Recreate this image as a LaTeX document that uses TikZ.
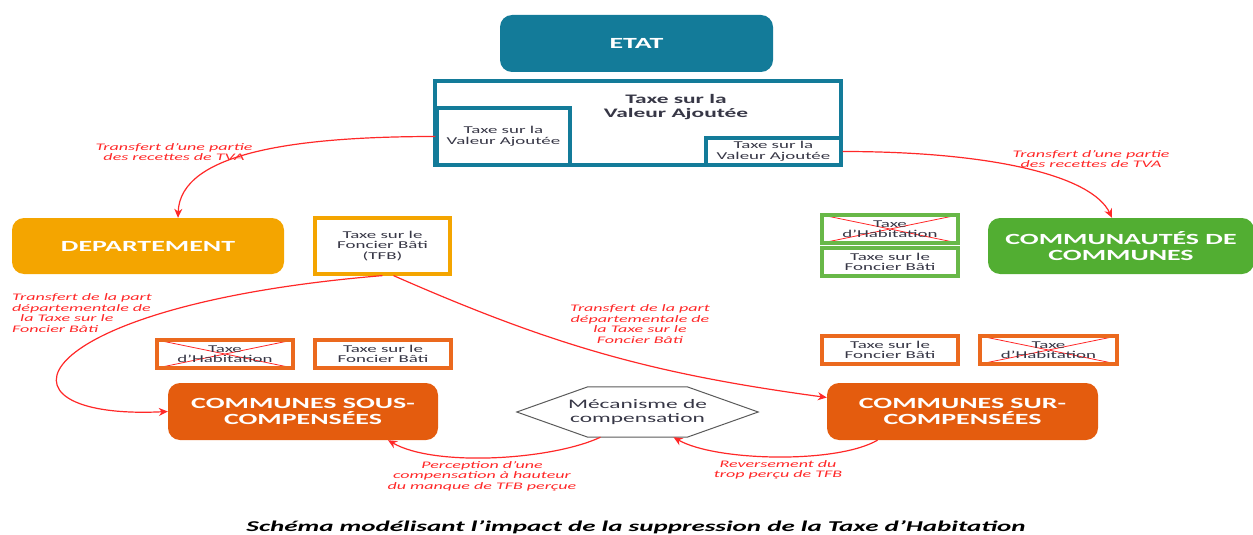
\documentclass[tikz,border=0pt]{standalone}
\usepackage{fontspec}
\setmainfont[FakeStretch=1.8]{Carlito}
\usepackage{tikz}
\usetikzlibrary{arrows.meta}
\usetikzlibrary{calc}
\usepackage{xcolor}

\definecolor{etatblue}{RGB}{19,123,153}
\definecolor{depyellow}{RGB}{244,165,0}
\definecolor{ccgreen}{RGB}{82,174,50}
\definecolor{boxgreen}{RGB}{104,184,72}
\definecolor{comorange}{RGB}{228,92,14}
\definecolor{boxorange}{RGB}{235,105,30}
\definecolor{flowred}{RGB}{255,40,40}
\definecolor{taxtext}{RGB}{55,55,70}
\definecolor{hexgray}{RGB}{90,90,90}

\begin{document}
\begin{tikzpicture}[x=1pt,y=-1pt,>={Stealth[length=9pt,width=8pt]},
		actor/.style={rounded corners=12pt, text=white, align=center, inner sep=0pt,
			font=\fontsize{15.5}{16.5}\selectfont\bfseries},
		taxbox/.style={draw, line width=3.2pt, fill=white, text=taxtext, align=center, inner sep=0pt,
			minimum width=136pt, minimum height=28pt, font=\fontsize{10.5}{10.5}\selectfont},
		crossed/.style={path picture={\draw[flowred, line width=0.8pt]
				(path picture bounding box.north west) -- (path picture bounding box.south east)
				(path picture bounding box.south west) -- (path picture bounding box.north east);}},
		flow/.style={->, flowred, line width=1.2pt},
		flowlabel/.style={text=flowred, align=center, inner sep=0pt,
			font=\fontsize{10}{10.5}\selectfont\itshape}]
		
		\useasboundingbox (0,0) rectangle (1253,535);
		
		%--- Etat and TVA ---
		\node[actor, fill=etatblue, minimum width=273pt, minimum height=57pt] (etat) at (636.5,43.5) {ETAT};
		\node[draw=etatblue, line width=3.2pt, minimum width=406pt, minimum height=84pt] (tva) at (638,123) {};
		\node[text=taxtext, align=center, font=\fontsize{13}{13.5}\selectfont\bfseries] (tvaT) at (676,107) {Taxe sur la\\Valeur Ajoutée};
		\node[taxbox, draw=etatblue, minimum width=133pt, minimum height=57pt] (tvaL) at (503.5,136.5) {Taxe sur la\\Valeur Ajoutée};
		\node[taxbox, draw=etatblue, minimum width=135pt, minimum height=27pt] (tvaR) at (773.5,151.5) {Taxe sur la\\Valeur Ajoutée};
		
		%--- Departement ---
		\node[actor, fill=depyellow, minimum width=272pt, minimum height=56pt] (dep) at (148,246) {DEPARTEMENT};
		\node[taxbox, draw=depyellow, minimum width=135pt, minimum height=56pt] (tfb) at (382.5,246) {Taxe sur le\\Foncier Bâti\\(TFB)};
		
		%--- Communautes de communes ---
		\node[taxbox, draw=boxgreen, crossed] (thG) at (890,229) {Taxe\\d’Habitation};
		\node[taxbox, draw=boxgreen] (tfbG) at (890,262) {Taxe sur le\\Foncier Bâti};
		\node[actor, fill=ccgreen, minimum width=266pt, minimum height=56pt] (cc) at (1121,246) {COMMUNAUTÉS DE\\COMMUNES};
		
		%--- Communes ---
		\node[taxbox, draw=boxorange, crossed] (thL) at (225,354) {Taxe\\d’Habitation};
		\node[taxbox, draw=boxorange] (tfbL) at (383,354) {Taxe sur le\\Foncier Bâti};
		\node[taxbox, draw=boxorange] (tfbR) at (890,350) {Taxe sur le\\Foncier Bâti};
		\node[taxbox, draw=boxorange, crossed, minimum width=137pt] (thR) at (1048.5,350) {Taxe\\d’Habitation};
		\node[actor, fill=comorange, minimum width=270pt, minimum height=57pt] (css) at (303,411.5) {COMMUNES SOUS-\\COMPENSÉES};
		\node[actor, fill=comorange, minimum width=271pt, minimum height=57pt] (csur) at (962.5,411.5) {COMMUNES SUR-\\COMPENSÉES};
		
		% Hexagon
		\node[text=taxtext, align=center, minimum width=241pt, minimum height=50pt, inner sep=0pt,
		font=\fontsize{13}{13.5}\selectfont] (hex) at (637.5,412) {Mécanisme de\\compensation};
		\draw[hexgray, line width=1pt] (hex.west) -- ([xshift=71pt]hex.north west) -- ([xshift=-71pt]hex.north east)
		-- (hex.east) -- ([xshift=-71pt]hex.south east) -- ([xshift=71pt]hex.south west) -- cycle;
		
		%--- Flows ---
		\draw[flow] (tvaL.west) .. controls +(-137,0) and +(2,-66) .. ([xshift=30pt]dep.north);
		\draw[flow] (tvaR.east) .. controls +(150,0) and +(-20,-42) .. ([xshift=-9pt]cc.north);
		\draw[flow] (tfb.south) .. controls +(-362,30) and +(-188,9) .. (css.west);
		\draw[flow] ([xshift=11pt]tfb.south) to[bend right=8] ([yshift=14pt]csur.west);
		\draw[flow] ([xshift=-37pt]hex.south) to[out=-155,in=-30,looseness=0.65] ([xshift=85pt]css.south);
		\draw[flow] ([xshift=-85pt]csur.south) to[out=-150,in=-30,looseness=0.6] ([xshift=36pt]hex.south);
		
		% Labels
		\node[flowlabel] (lblTvaL) at (174,152) {Transfert d’une partie\\des recettes de TVA};
		\node[flowlabel] (lblTvaR) at (1091,159) {Transfert d’une partie\\des recettes de TVA};
		\node[flowlabel, align=left, anchor=west] (lblTfbL) at (12,313) {Transfert de la part\\départementale de\\\hspace{8pt}la Taxe sur le\\Foncier Bâti};
		\node[flowlabel] (lblTfbR) at (640,324) {Transfert de la part\\départementale de\\la Taxe sur le\\Foncier Bâti};
		\node[flowlabel] (lblPerc) at (482,476) {Perception d’une\\compensation à hauteur\\du manque de TFB perçue};
		\node[flowlabel] (lblRev) at (778,470) {Reversement du\\trop perçu de TFB};
		
		% Caption
		\node[anchor=base, font=\fontsize{15}{16}\selectfont\bfseries\itshape] (caption) at (636,531)
		{Schéma modélisant l’impact de la suppression de la Taxe d’Habitation};
		
	\end{tikzpicture}
\end{document}
